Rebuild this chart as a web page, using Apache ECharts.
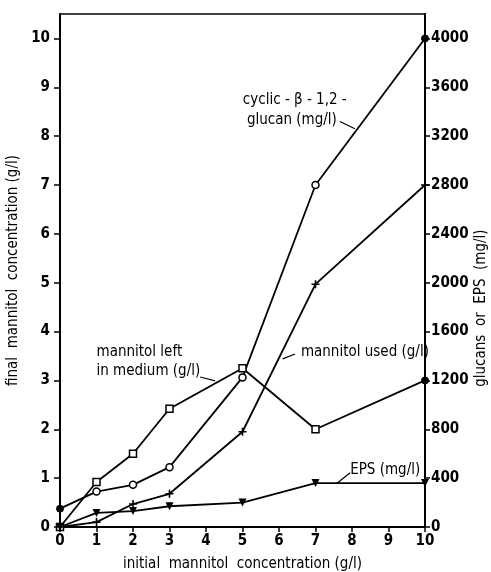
<!DOCTYPE html>
<html>
<head>
<meta charset="utf-8">
<script src="https://cdn.jsdelivr.net/npm/echarts@6/dist/echarts.min.js"></script>
<style>
  html, body { margin: 0; padding: 0; background: #fff; }
  #chart { width: 491px; height: 572px; }
</style>
</head>
<body>
<div id="chart"></div>
<script>
// Initial mannitol concentration (g/l)
const initialMannitol = [0, 1, 2, 3, 5, 7, 10];
// Cyclic beta-1,2-glucan (mg/l, right axis)
const glucan = [150, 290, 345, 490, 1225, 2800, 4000];
// Mannitol left in medium (g/l, left axis)
const mannitolLeft = [0, 0.92, 1.5, 2.42, 3.25, 2.0, 3.0];
// Mannitol used (g/l, left axis)
const mannitolUsed = [0, 0.1, 0.47, 0.68, 1.95, 4.97, 7.0];
// Exopolysaccharide (mg/l, right axis)
const eps = [0, 115, 130, 170, 200, 360, 360];

// Tick values
const xTicks = [0, 1, 2, 3, 4, 5, 6, 7, 8, 9, 10];
const leftTicks = [0, 1, 2, 3, 4, 5, 6, 7, 8, 9, 10];
const rightTicks = [0, 400, 800, 1200, 1600, 2000, 2400, 2800, 3200, 3600, 4000];

const FONT = "'Liberation Sans Narrow', 'DejaVu Sans Condensed', 'DejaVu Sans', sans-serif";
const INK = '#000';
const PLUS = 'path://M4,0H6V4H10V6H6V10H4V6H0V4H4Z';

const hollow = { color: '#fff', borderColor: INK, borderWidth: 1.5 };
const solid = { color: INK, borderColor: INK, borderWidth: 1 };

function points(values, styleAt) {
  return initialMannitol.map((x, i) => {
    const item = { value: [x, values[i]] };
    const extra = styleAt ? styleAt(i) : null;
    if (extra) Object.assign(item, extra);
    return item;
  });
}

const last = initialMannitol.length - 1;

const chart = echarts.init(document.getElementById('chart'), null, { renderer: 'canvas' });

const plain = v => String(v);
const tickLabel = { color: INK, fontFamily: FONT, fontSize: 15, fontWeight: 'bold', formatter: plain };
const nameStyle = { color: INK, fontFamily: FONT, fontSize: 15 };

chart.setOption({
  animation: false,
  backgroundColor: '#fff',
  grid: {
    left: 60, right: 66, top: 14, bottom: 45,
    outerBoundsMode: 'none', containLabel: false,
    show: true, borderColor: INK, borderWidth: 1.5, backgroundColor: 'transparent'
  },
  xAxis: {
    type: 'value', min: 0, max: 10, interval: 1,
    name: 'initial  mannitol  concentration (g/l)',
    nameLocation: 'middle', nameGap: 30, nameTextStyle: nameStyle,
    axisLine: { show: true, lineStyle: { color: INK, width: 2 } },
    axisTick: { show: true, length: 5, lineStyle: { color: INK, width: 1.5 }, customValues: xTicks },
    axisLabel: Object.assign({ margin: 7, customValues: xTicks }, tickLabel),
    splitLine: { show: false }
  },
  yAxis: [
    {
      type: 'value', min: 0, max: 10.5, position: 'left',
      name: 'final  mannitol  concentration (g/l)',
      nameLocation: 'middle', nameGap: 37, nameRotate: 90, nameTextStyle: nameStyle,
      axisLine: { show: true, lineStyle: { color: INK, width: 2 } },
      axisTick: { show: true, length: 6, lineStyle: { color: INK, width: 1.5 }, customValues: leftTicks },
      axisLabel: Object.assign({ margin: 10, customValues: leftTicks }, tickLabel),
      splitLine: { show: false }
    },
    {
      type: 'value', min: 0, max: 4200, position: 'right',
      axisLine: { show: true, lineStyle: { color: INK, width: 2 } },
      axisTick: { show: true, length: 5, lineStyle: { color: INK, width: 1.5 }, customValues: rightTicks },
      axisLabel: Object.assign({ margin: 6, customValues: rightTicks }, tickLabel),
      splitLine: { show: false }
    }
  ],
  series: [
    {
      name: 'cyclic-β-1,2-glucan', type: 'line', yAxisIndex: 1,
      symbol: 'circle', symbolSize: 7,
      lineStyle: { color: INK, width: 1.8 }, itemStyle: hollow,
      data: points(glucan, i => (i === 0 || i === last) ? { itemStyle: solid } : null),
      z: 3
    },
    {
      name: 'mannitol left in medium', type: 'line', yAxisIndex: 0,
      symbol: 'rect', symbolSize: 7,
      lineStyle: { color: INK, width: 1.8 }, itemStyle: hollow,
      data: points(mannitolLeft, i => i === last ? { symbol: 'circle', itemStyle: solid } : null),
      z: 3
    },
    {
      name: 'mannitol used', type: 'line', yAxisIndex: 0,
      symbol: PLUS, symbolSize: 8,
      lineStyle: { color: INK, width: 1.8 }, itemStyle: { color: INK },
      data: points(mannitolUsed),
      z: 3
    },
    {
      name: 'EPS', type: 'line', yAxisIndex: 1,
      symbol: 'triangle', symbolRotate: 180, symbolSize: 8,
      lineStyle: { color: INK, width: 1.8 }, itemStyle: { color: INK },
      data: points(eps),
      z: 3
    }
  ]
});

// Series annotations, anchored in left-axis data units
const notes = [
  { text: 'cyclic - β - 1,2 -', at: [5.01, 8.74] },
  { text: 'glucan (mg/l)', at: [5.12, 8.33] },
  { text: 'mannitol left', at: [1.0, 3.58] },
  { text: 'in medium (g/l)', at: [1.0, 3.19] },
  { text: 'mannitol used (g/l)', at: [6.6, 3.58] },
  { text: 'EPS (mg/l)', at: [7.95, 1.16] }
];
const leaders = [
  [[7.67, 8.30], [8.08, 8.15]],
  [[3.84, 3.07], [4.25, 2.99]],
  [[6.1, 3.44], [6.44, 3.54]],
  [[7.58, 0.89], [7.95, 1.11]]
];

function px(p) {
  return chart.convertToPixel({ xAxisIndex: 0, yAxisIndex: 0 }, p);
}

const graphics = [];
notes.forEach(n => {
  const p = px(n.at);
  graphics.push({
    type: 'text', x: p[0], y: p[1], z: 10,
    style: { text: n.text, font: '15px ' + FONT, fill: INK, textAlign: 'left', textVerticalAlign: 'middle' }
  });
});
leaders.forEach(seg => {
  const a = px(seg[0]), b = px(seg[1]);
  graphics.push({
    type: 'line', z: 10,
    shape: { x1: a[0], y1: a[1], x2: b[0], y2: b[1] },
    style: { stroke: INK, lineWidth: 1.2 }
  });
});

// Right axis title, reading upward beside the mg/l scale
const rightEdge = px([10, 4.48]);
graphics.push({
  type: 'text', x: rightEdge[0] + 56, y: rightEdge[1], rotation: Math.PI / 2, z: 10,
  style: { text: 'glucans  or  EPS  (mg/l)', font: '15px ' + FONT, fill: INK, textAlign: 'center', textVerticalAlign: 'middle' }
});

chart.setOption({ graphic: graphics });
</script>
</body>
</html>
